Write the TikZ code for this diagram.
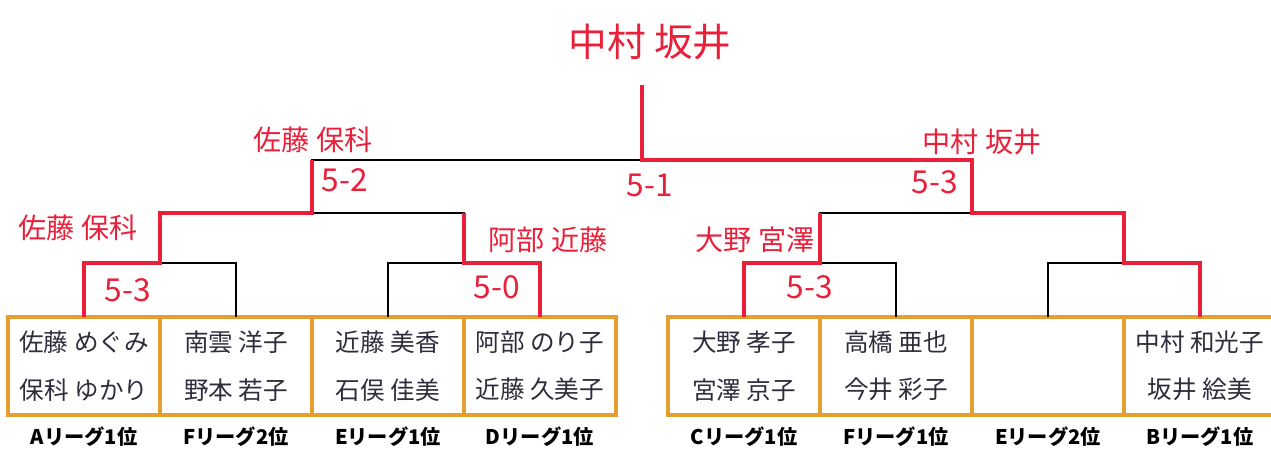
\documentclass[tikz,border=0pt]{standalone}
\usepackage{fontspec}
\setmainfont{Noto Sans CJK JP}
\definecolor{BoxOrange}{RGB}{229, 158, 48}
\definecolor{PenRed}{RGB}{232, 32, 58}
\definecolor{Ink}{RGB}{45, 45, 60}
\usepackage{tikz}
\usetikzlibrary{positioning, calc}

\begin{document}
\begin{tikzpicture}[x=0.02cm, y=-0.02cm,
            box/.style={rectangle, draw=BoxOrange, line width=2pt, fill=white, minimum width=3.04cm, minimum height=1.96cm, outer sep=0pt, align=center, text=Ink, font=\fontsize{14}{27}\selectfont},
            lbl/.style={font=\fontsize{11.5}{13}\selectfont\bfseries},
            bracket/.style={line width=1.4pt},
            won/.style={draw=PenRed, line width=2.4pt},
            win/.style={text=PenRed, font=\fontsize{16}{18}\selectfont},
            score/.style={text=PenRed, font=\fontsize{18}{20}\selectfont},
        ]
            \useasboundingbox (0,0) rectangle (1271,451);
            % left block
            \node[box] (a1) at (84,366) {佐藤 めぐみ\\保科 ゆかり};
            \node[box, right=0cm of a1] (a2) {南雲 洋子\\野本 若子};
            \node[box, right=0cm of a2] (a3) {近藤 美香\\石俣 佳美};
            \node[box, right=0cm of a3] (a4) {阿部 のり子\\近藤 久美子};
            % right block
            \node[box] (a5) at (744,366) {大野 孝子\\宮澤 京子};
            \node[box, right=0cm of a5] (a6) {高橋 亜也\\今井 彩子};
            \node[box, right=0cm of a6] (a7) {};
            \node[box, right=0cm of a7] (a8) {中村 和光子\\坂井 絵美};
            % leagues
            \node[lbl, below=0.12cm of a1] (la1) {Aリーグ1位};
            \node[lbl, below=0.12cm of a2] (la2) {Fリーグ2位};
            \node[lbl, below=0.12cm of a3] (la3) {Eリーグ1位};
            \node[lbl, below=0.12cm of a4] (la4) {Dリーグ1位};
            \node[lbl, below=0.12cm of a5] (la5) {Cリーグ1位};
            \node[lbl, below=0.12cm of a6] (la6) {Fリーグ1位};
            \node[lbl, below=0.12cm of a7] (la7) {Eリーグ2位};
            \node[lbl, below=0.12cm of a8] (la8) {Bリーグ1位};
            % junctions
            \coordinate (r1) at ($(a1.north)!0.5!(a2.north) + (0,-54)$);
            \coordinate (r2) at ($(a3.north)!0.5!(a4.north) + (0,-54)$);
            \coordinate (r3) at ($(a5.north)!0.5!(a6.north) + (0,-54)$);
            \coordinate (r4) at ($(a7.north)!0.5!(a8.north) + (0,-54)$);
            \coordinate (s1) at ($(r1)!0.5!(r2) + (0,-50)$);
            \coordinate (s2) at ($(r3)!0.5!(r4) + (0,-50)$);
            \coordinate (f) at ($(s1)!0.5!(s2) + (0,-53)$);
            \coordinate (top) at ($(f) + (0,-75)$);
            % bracket
            \draw[bracket] (a1.north) |- (r1) -| (a2.north);
            \draw[bracket] (a3.north) |- (r2) -| (a4.north);
            \draw[bracket] (a5.north) |- (r3) -| (a6.north);
            \draw[bracket] (a7.north) |- (r4) -| (a8.north);
            \draw[bracket] (r1) |- (s1) -| (r2);
            \draw[bracket] (r3) |- (s2) -| (r4);
            \draw[bracket] (s1) |- (f) -| (s2);
            \draw[bracket] (f) -- (top);
            % winners
            \draw[won] (a1.north) |- (r1) |- (s1) -- (s1 |- f);
            \draw[won] (a4.north) |- (r2) -- (r2 |- s1);
            \draw[won] (a5.north) |- (r3) -- (r3 |- s2);
            \draw[won] (a8.north) |- (r4) |- (s2) |- (f) -- (top);
            \node[win, font=\fontsize{22}{26}\selectfont] (champ) at (650,42) {中村 坂井};
            \node[win] (w1) at (313,140) {佐藤 保科};
            \node[win] (w2) at (982,142) {中村 坂井};
            \node[win] (w3) at (78,228) {佐藤 保科};
            \node[win] (w4) at (548,240) {阿部 近藤};
            \node[win] (w5) at (755,240) {大野 宮澤};
            \node[score] (p1) at (345,180) {5-2};
            \node[score] (p2) at (650,185) {5-1};
            \node[score] (p3) at (935,182) {5-3};
            \node[score] (p4) at (128,290) {5-3};
            \node[score] (p5) at (497,287) {5-0};
            \node[score] (p6) at (810,287) {5-3};
        \end{tikzpicture}
\end{document}
